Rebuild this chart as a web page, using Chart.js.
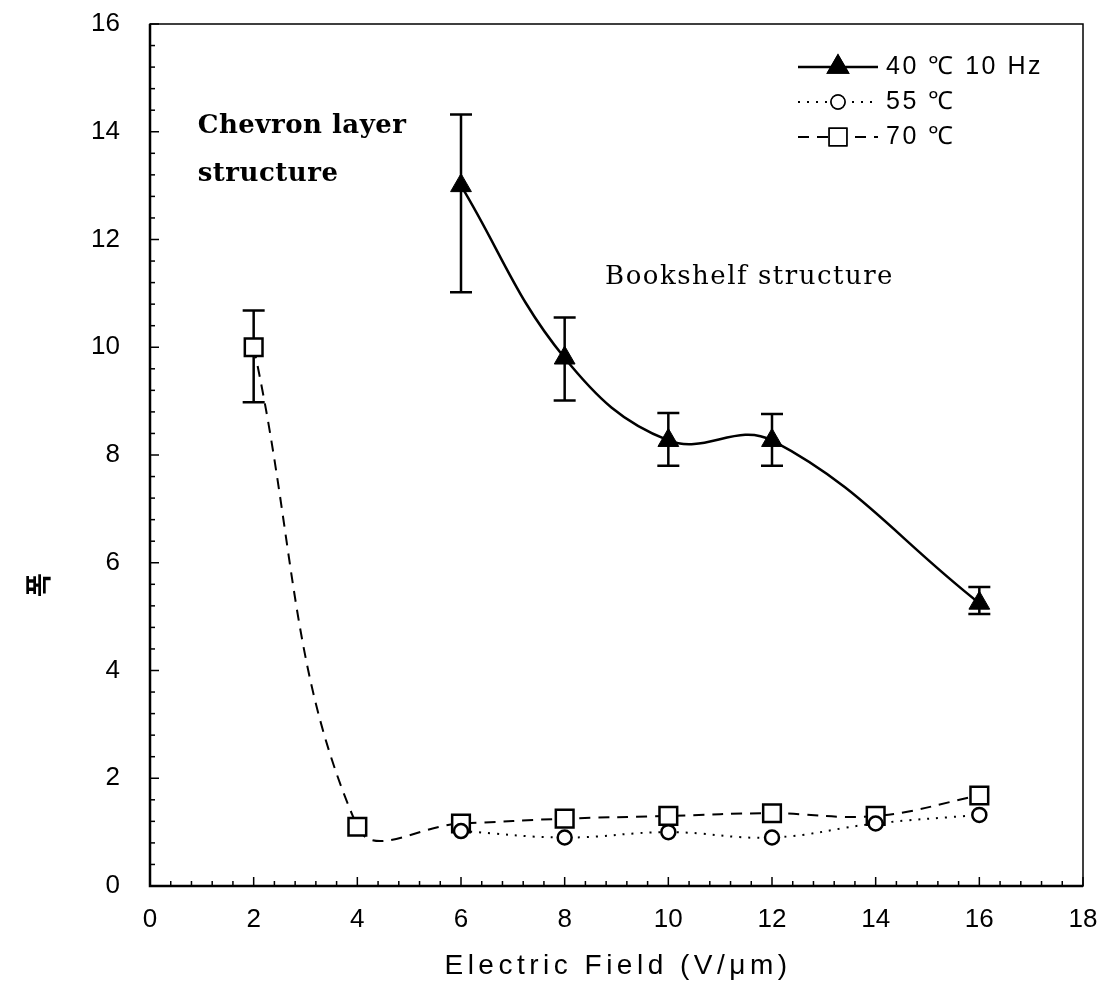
<!DOCTYPE html>
<html>
<head>
<meta charset="utf-8">
<script src="https://cdn.jsdelivr.net/npm/chart.js@4.4.1/dist/chart.umd.min.js"></script>
<style>
  html, body { margin: 0; padding: 0; background: #fff; }
  #wrap { width: 1116px; height: 998px; }
</style>
</head>
<body>
<div id="wrap"><canvas id="c" width="1116" height="998"></canvas></div>
<script>
// electric field (V/um)
const fields = [2, 4, 6, 8, 10, 12, 14, 16];

// 40 C, 10 Hz with error bars
const t40 = [null, null, 13.0, 9.8, 8.27, 8.27, null, 5.25];
const t40Low = [null, null, 11.02, 9.01, 7.8, 7.8, null, 5.05];
const t40High = [null, null, 14.32, 10.55, 8.78, 8.76, null, 5.55];

// 55 C
const t55 = [null, null, 1.02, 0.9, 1.0, 0.9, 1.16, 1.32];

// 70 C, error bar only on the first point
const t70 = [10.0, 1.1, 1.16, 1.25, 1.3, 1.35, 1.3, 1.68];
const t70Low = [8.98, null, null, null, null, null, null, null];
const t70High = [10.68, null, null, null, null, null, null, null];

const xTicks = [0, 2, 4, 6, 8, 10, 12, 14, 16, 18];
const yTicks = [0, 2, 4, 6, 8, 10, 12, 14, 16];

const legendLabels = ['40 \u2103 10 Hz', '55 \u2103', '70 \u2103'];
const xTitle = 'Electric Field (V/\u03bcm)';

const SANS = '"Liberation Sans", Arial, sans-serif';

function pts(ys) {
  const out = [];
  ys.forEach((y, i) => { if (y !== null) out.push({ x: fields[i], y: y }); });
  return out;
}

// vertical error bars, drawn under the markers
const errorBars = {
  id: 'errorBars',
  beforeDatasetsDraw(chart) {
    const { ctx, scales: { x, y } } = chart;
    const sets = [[t40Low, t40High], [t70Low, t70High]];
    ctx.save();
    ctx.strokeStyle = '#000';
    ctx.lineWidth = 2.5;
    sets.forEach(([lo, hi]) => {
      fields.forEach((f, i) => {
        if (lo[i] === null) return;
        const px = x.getPixelForValue(f);
        const y1 = y.getPixelForValue(lo[i]);
        const y2 = y.getPixelForValue(hi[i]);
        ctx.beginPath();
        ctx.moveTo(px, y1); ctx.lineTo(px, y2);
        ctx.moveTo(px - 11, y1); ctx.lineTo(px + 11, y1);
        ctx.moveTo(px - 11, y2); ctx.lineTo(px + 11, y2);
        ctx.stroke();
      });
    });
    ctx.restore();
  }
};

// frame, inward ticks, annotations, legend and axis titles
const decor = {
  id: 'decor',
  afterDraw(chart) {
    const { ctx, chartArea: a, scales: { x, y } } = chart;
    ctx.save();
    ctx.strokeStyle = '#000';

    // frame
    ctx.lineWidth = 1.5;
    ctx.strokeRect(a.left, a.top, a.right - a.left, a.bottom - a.top);
    ctx.lineWidth = 2.5;
    ctx.beginPath();
    ctx.moveTo(a.left, a.top); ctx.lineTo(a.left, a.bottom); ctx.lineTo(a.right, a.bottom);
    ctx.stroke();

    // inward ticks
    ctx.lineWidth = 1.5;
    for (let v = 0; v <= 18.001; v += 0.4) {
      const major = Math.abs(v / 2 - Math.round(v / 2)) < 0.01;
      const px = x.getPixelForValue(v);
      ctx.beginPath();
      ctx.moveTo(px, a.bottom); ctx.lineTo(px, a.bottom - (major ? 9 : 5));
      ctx.stroke();
    }
    for (let v = 0; v <= 16.001; v += 0.4) {
      const major = Math.abs(v / 2 - Math.round(v / 2)) < 0.01;
      const py = y.getPixelForValue(v);
      ctx.beginPath();
      ctx.moveTo(a.left, py); ctx.lineTo(a.left + (major ? 9 : 5), py);
      ctx.stroke();
    }

    // region notes
    ctx.fillStyle = '#000';
    ctx.textBaseline = 'middle';
    ctx.textAlign = 'left';
    ctx.font = 'bold 26px "DejaVu Serif", serif';
    ctx.letterSpacing = '0.5px';
    ctx.fillText('Chevron layer', x.getPixelForValue(0.92), y.getPixelForValue(14.1));
    ctx.fillText('structure', x.getPixelForValue(0.92), y.getPixelForValue(13.22));
    ctx.font = '26px "DejaVu Serif", serif';
    ctx.letterSpacing = '1.5px';
    ctx.fillText('Bookshelf structure', x.getPixelForValue(8.78), y.getPixelForValue(11.3));

    // legend
    ctx.font = '25px ' + SANS;
    ctx.letterSpacing = '2.5px';
    const rows = [67, 102, 137];
    chart.data.datasets.forEach((ds, i) => {
      const ry = rows[i];
      ctx.save();
      ctx.lineWidth = ds.borderWidth;
      ctx.setLineDash(ds.borderDash || []);
      ctx.beginPath();
      ctx.moveTo(798, ry); ctx.lineTo(878, ry);
      ctx.stroke();
      ctx.restore();
      Chart.helpers.drawPoint(ctx, {
        pointStyle: ds.pointStyle,
        radius: ds.pointRadius,
        borderWidth: ds.pointBorderWidth
      }, 838, ry);
      ctx.fillStyle = ds.pointBackgroundColor;
      ctx.strokeStyle = '#000';
      ctx.fill();
      ctx.stroke();
      ctx.fillStyle = '#000';
      ctx.fillText(legendLabels[i], 886, ry);
    });

    // x title
    ctx.font = '28px ' + SANS;
    ctx.letterSpacing = '4.5px';
    ctx.textAlign = 'center';
    ctx.fillText(xTitle, 618, 966);

    // y title
    ctx.letterSpacing = '0px';
    ctx.translate(38, 585);
    ctx.rotate(-Math.PI / 2);
    ctx.font = 'bold 26px "Noto Sans CJK KR", sans-serif';
    ctx.fillText('폭', 0, 0);

    ctx.restore();
  }
};

new Chart(document.getElementById('c'), {
  type: 'line',
  data: {
    datasets: [
      {
        label: legendLabels[0],
        data: pts(t40),
        borderColor: '#000',
        borderWidth: 2.5,
        tension: 0.4,
        pointStyle: 'triangle',
        pointRadius: 12,
        pointBorderWidth: 1,
        pointBackgroundColor: '#000',
        pointBorderColor: '#000'
      },
      {
        label: legendLabels[1],
        data: pts(t55),
        borderColor: '#000',
        borderWidth: 2,
        borderDash: [2, 7],
        tension: 0.4,
        pointStyle: 'circle',
        pointRadius: 7,
        pointBorderWidth: 2.5,
        pointBackgroundColor: '#fff',
        pointBorderColor: '#000'
      },
      {
        label: legendLabels[2],
        data: pts(t70),
        borderColor: '#000',
        borderWidth: 2,
        borderDash: [11, 8],
        tension: 0.4,
        pointStyle: 'rect',
        pointRadius: 12.5,
        pointBorderWidth: 2.5,
        pointBackgroundColor: '#fff',
        pointBorderColor: '#000'
      }
    ]
  },
  options: {
    responsive: false,
    animation: false,
    layout: { padding: { left: 0, right: 33, top: 24, bottom: 0 } },
    plugins: { legend: { display: false }, tooltip: { enabled: false } },
    scales: {
      x: {
        type: 'linear',
        min: 0, max: 18,
        afterFit(s) { s.height = 112; s.paddingRight = 0; s.paddingLeft = 0; },
        afterBuildTicks(s) { s.ticks = xTicks.map(v => ({ value: v })); },
        grid: { display: false },
        border: { display: false },
        ticks: {
          color: '#000',
          padding: 10,
          maxRotation: 0,
          font: { family: SANS, size: 26 }
        }
      },
      y: {
        type: 'linear',
        min: 0, max: 16,
        afterFit(s) { s.width = 150; s.paddingTop = 0; s.paddingBottom = 0; },
        afterBuildTicks(s) { s.ticks = yTicks.map(v => ({ value: v })); },
        grid: { display: false },
        border: { display: false },
        ticks: {
          color: '#000',
          padding: 22,
          font: { family: SANS, size: 26 }
        }
      }
    }
  },
  plugins: [errorBars, decor]
});
</script>
</body>
</html>
